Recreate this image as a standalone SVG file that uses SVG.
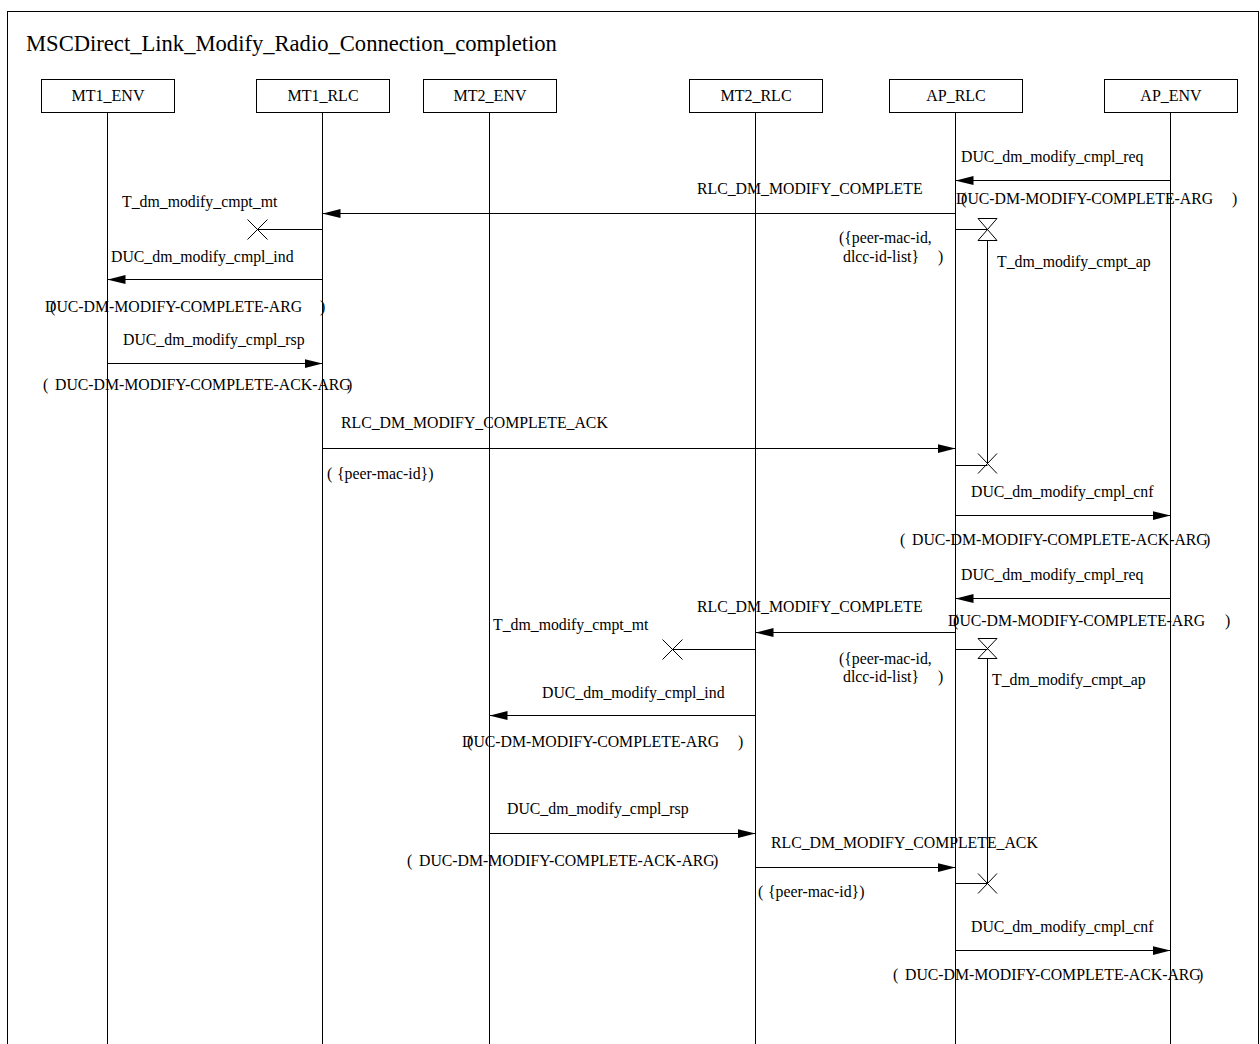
<svg xmlns="http://www.w3.org/2000/svg" width="1260" height="1044" viewBox="0 0 1260 1044">
<defs>
<marker id="ah" viewBox="0 0 18 9" refX="18" refY="4.5" markerWidth="18" markerHeight="9" markerUnits="userSpaceOnUse" orient="auto">
<path d="M0,0 L18,4.5 L0,9 z" fill="#000"/>
</marker>
<style>
text{font-family:"Liberation Serif","Times New Roman",serif;fill:#000}
.t{font-size:15.8px}
.h{font-size:16px;text-anchor:middle}
.ttl{font-size:22.6px}
.ln{stroke:#000;stroke-width:1;fill:none}
.msg{stroke:#000;stroke-width:1;fill:none;marker-end:url(#ah)}
.box{fill:#fff;stroke:#000;stroke-width:1}
</style>
</defs>
<rect x="0" y="0" width="1260" height="1044" fill="#fff"/>
<rect x="7.5" y="11.5" width="1251" height="1100" class="ln"/>
<text class="ttl" x="26" y="51">MSCDirect_Link_Modify_Radio_Connection_completion</text>

<g id="MT1_ENV"><line class="ln" x1="107.5" y1="112" x2="107.5" y2="1044"/><rect class="box" x="41.5" y="79.5" width="133" height="33"/><text class="h" x="108" y="101">MT1_ENV</text></g>
<g id="MT1_RLC"><line class="ln" x1="322.5" y1="112" x2="322.5" y2="1044"/><rect class="box" x="256.5" y="79.5" width="133" height="33"/><text class="h" x="323" y="101">MT1_RLC</text></g>
<g id="MT2_ENV"><line class="ln" x1="489.5" y1="112" x2="489.5" y2="1044"/><rect class="box" x="423.5" y="79.5" width="133" height="33"/><text class="h" x="490" y="101">MT2_ENV</text></g>
<g id="MT2_RLC"><line class="ln" x1="755.5" y1="112" x2="755.5" y2="1044"/><rect class="box" x="689.5" y="79.5" width="133" height="33"/><text class="h" x="756" y="101">MT2_RLC</text></g>
<g id="AP_RLC"><line class="ln" x1="955.5" y1="112" x2="955.5" y2="1044"/><rect class="box" x="889.5" y="79.5" width="133" height="33"/><text class="h" x="956" y="101">AP_RLC</text></g>
<g id="AP_ENV"><line class="ln" x1="1170.5" y1="112" x2="1170.5" y2="1044"/><rect class="box" x="1104.5" y="79.5" width="133" height="33"/><text class="h" x="1171" y="101">AP_ENV</text></g>

<g id="connectors">
<line class="msg" x1="1170.5" y1="180.5" x2="955.5" y2="180.5"/>
<line class="msg" x1="955.5" y1="213.5" x2="322.5" y2="213.5"/>
<line class="msg" x1="322.5" y1="279.5" x2="107.5" y2="279.5"/>
<line class="msg" x1="107.5" y1="363.5" x2="322.5" y2="363.5"/>
<line class="msg" x1="322.5" y1="448.5" x2="955.5" y2="448.5"/>
<line class="msg" x1="955.5" y1="515.5" x2="1170.5" y2="515.5"/>
<line class="msg" x1="1170.5" y1="598.5" x2="955.5" y2="598.5"/>
<line class="msg" x1="955.5" y1="632.5" x2="755.5" y2="632.5"/>
<line class="msg" x1="755.5" y1="715.5" x2="489.5" y2="715.5"/>
<line class="msg" x1="489.5" y1="833.5" x2="755.5" y2="833.5"/>
<line class="msg" x1="755.5" y1="867.5" x2="955.5" y2="867.5"/>
<line class="msg" x1="955.5" y1="950.5" x2="1170.5" y2="950.5"/>
</g>

<g id="timers">
<path class="ln" d="M322.5,229.5 H257.5 M247.5,219.5 L267.5,239.5 M267.5,219.5 L247.5,239.5"/>
<path class="ln" d="M955.5,229.5 H987.5 M978,218.5 H997 L978,240.5 H997 L978,218.5 M987.5,240.5 V463.5 M955.5,465.5 H987.5 M978,453.5 L997,473.5 M997,453.5 L978,473.5"/>
<path class="ln" d="M755.5,649.5 H672.5 M662.5,639.5 L682.5,659.5 M682.5,639.5 L662.5,659.5"/>
<path class="ln" d="M955.5,649.5 H987.5 M978,638.5 H997 L978,658.5 H997 L978,638.5 M987.5,658.5 V883.5 M955.5,883.5 H987.5 M978,873.5 L997,893.5 M997,873.5 L978,893.5"/>
</g>

<g id="labels">
<text class="t" x="961" y="162">DUC_dm_modify_cmpl_req</text>
<text class="t" x="961" y="204">(<tspan x="956">DUC-DM-MODIFY-COMPLETE-ARG</tspan><tspan x="1232">)</tspan></text>
<text class="t" x="697" y="194">RLC_DM_MODIFY_COMPLETE</text>
<text class="t" x="122" y="207">T_dm_modify_cmpt_mt</text>
<text class="t" x="839" y="243">({peer-mac-id,</text>
<text class="t" x="843" y="262">dlcc-id-list}<tspan x="938">)</tspan></text>
<text class="t" x="997" y="267">T_dm_modify_cmpt_ap</text>
<text class="t" x="111" y="262">DUC_dm_modify_cmpl_ind</text>
<text class="t" x="50" y="312">(<tspan x="45">DUC-DM-MODIFY-COMPLETE-ARG</tspan><tspan x="320">)</tspan></text>
<text class="t" x="123" y="345">DUC_dm_modify_cmpl_rsp</text>
<text class="t" x="43" y="390">(<tspan x="55">DUC-DM-MODIFY-COMPLETE-ACK-ARG</tspan><tspan x="347">)</tspan></text>
<text class="t" x="341" y="428">RLC_DM_MODIFY_COMPLETE_ACK</text>
<text class="t" x="327" y="479">(<tspan x="337">{peer-mac-id})</tspan></text>
<text class="t" x="971" y="497">DUC_dm_modify_cmpl_cnf</text>
<text class="t" x="900" y="545">(<tspan x="912">DUC-DM-MODIFY-COMPLETE-ACK-ARG</tspan><tspan x="1205">)</tspan></text>
<text class="t" x="961" y="580">DUC_dm_modify_cmpl_req</text>
<text class="t" x="697" y="612">RLC_DM_MODIFY_COMPLETE</text>
<text class="t" x="953" y="626">(<tspan x="948">DUC-DM-MODIFY-COMPLETE-ARG</tspan><tspan x="1225">)</tspan></text>
<text class="t" x="493" y="630">T_dm_modify_cmpt_mt</text>
<text class="t" x="839" y="664">({peer-mac-id,</text>
<text class="t" x="843" y="682">dlcc-id-list}<tspan x="938">)</tspan></text>
<text class="t" x="992" y="685">T_dm_modify_cmpt_ap</text>
<text class="t" x="542" y="698">DUC_dm_modify_cmpl_ind</text>
<text class="t" x="467" y="747">(<tspan x="462">DUC-DM-MODIFY-COMPLETE-ARG</tspan><tspan x="738">)</tspan></text>
<text class="t" x="507" y="814">DUC_dm_modify_cmpl_rsp</text>
<text class="t" x="407" y="866">(<tspan x="419">DUC-DM-MODIFY-COMPLETE-ACK-ARG</tspan><tspan x="713">)</tspan></text>
<text class="t" x="771" y="848">RLC_DM_MODIFY_COMPLETE_ACK</text>
<text class="t" x="758" y="897">(<tspan x="768">{peer-mac-id})</tspan></text>
<text class="t" x="971" y="932">DUC_dm_modify_cmpl_cnf</text>
<text class="t" x="893" y="980">(<tspan x="905">DUC-DM-MODIFY-COMPLETE-ACK-ARG</tspan><tspan x="1198">)</tspan></text>
</g>
</svg>
